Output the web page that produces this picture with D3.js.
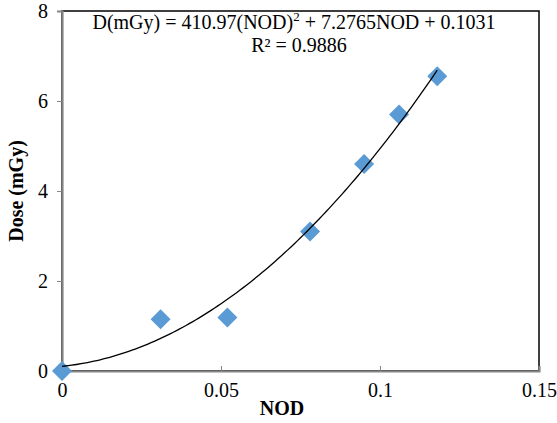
<!DOCTYPE html>
<html>
<head>
  <style>
    body { margin: 0; background: #fff; }
    svg text { font-family: "Liberation Serif", "Times New Roman", serif; fill: #000; }
  </style>
</head>
<body>
  <script src="https://d3js.org/d3.v7.min.js"></script>
  <script>
    const nod = [0, 0.031, 0.052, 0.078, 0.095, 0.106, 0.118];
    const dose = [0, 1.15, 1.19, 3.1, 4.6, 5.7, 6.55];
    const fitCoef = [410.97, 7.2765, 0.1031]; // a*x^2 + b*x + c
    const xTicks = [0, 0.05, 0.1, 0.15];
    const yTicks = [0, 2, 4, 6, 8];

    const width = 557, height = 423;
    const m = { top: 11, right: 18, bottom: 52, left: 62 };
    const fs = 20;

    const svg = d3.select('body').append('svg')
      .attr('width', width)
      .attr('height', height);

    const x = d3.scaleLinear().domain([0, 0.15]).range([m.left, width - m.right]);
    const y = d3.scaleLinear().domain([0, 8]).range([height - m.bottom, m.top]);

    // plot area border
    svg.append('rect')
      .attr('x', x(0)).attr('y', y(8))
      .attr('width', x(0.15) - x(0)).attr('height', y(0) - y(8))
      .attr('fill', 'none').attr('stroke', '#000').attr('stroke-width', 1.5);

    // axes
    const yAxis = svg.append('g')
      .attr('transform', `translate(${x(0)},0)`)
      .call(d3.axisLeft(y).tickValues(yTicks).tickSize(5).tickPadding(9).tickFormat(d3.format('d')));
    const xAxis = svg.append('g')
      .attr('transform', `translate(0,${y(0)})`)
      .call(d3.axisBottom(x).tickValues(xTicks).tickSize(-5).tickPadding(17).tickFormat(d => d === 0 ? '0' : String(d)));

    [yAxis, xAxis].forEach(g => {
      g.select('.domain').attr('stroke', '#868686').attr('stroke-width', 2.2);
      g.selectAll('.tick line').attr('stroke', '#868686');
      g.selectAll('.tick text').attr('font-size', fs);
    });
    xAxis.selectAll('.tick text').attr('dy', '0.45em');

    const line = d3.line().x(d => x(d[0])).y(d => y(d[1]));
    const fit = d3.range(0, 0.1181, 0.001).map(v => [v, fitCoef[0] * v * v + fitCoef[1] * v + fitCoef[2]]);

    // markers
    const diamond = d3.symbol(d3.symbolSquare, 200);
    svg.selectAll('.pt')
      .data(nod.map((v, i) => [v, dose[i]]))
      .enter()
      .append('path')
      .attr('class', 'pt')
      .attr('d', diamond)
      .attr('fill', '#5B9BD5')
      .attr('transform', d => `translate(${x(d[0])},${y(d[1])}) rotate(45)`);

    // trendline on top of markers
    svg.append('path')
      .datum(fit)
      .attr('fill', 'none')
      .attr('stroke', '#000')
      .attr('stroke-width', 1.3)
      .attr('d', line);

    // equation
    const eq = svg.append('text')
      .attr('x', 294).attr('y', 29)
      .attr('text-anchor', 'middle')
      .attr('font-size', fs);
    eq.append('tspan').text('D(mGy) = 410.97(NOD)');
    eq.append('tspan').attr('font-size', 13).attr('dy', -8).text('2');
    eq.append('tspan').attr('dy', 8).text(' + 7.2765NOD + 0.1031');

    svg.append('text')
      .attr('x', 299).attr('y', 52)
      .attr('text-anchor', 'middle')
      .attr('font-size', fs)
      .text('R² = 0.9886');

    // axis titles
    svg.append('text')
      .attr('x', 282).attr('y', 415)
      .attr('text-anchor', 'middle')
      .attr('font-size', fs).attr('font-weight', 'bold')
      .text('NOD');

    svg.append('text')
      .attr('transform', 'translate(23,191) rotate(-90)')
      .attr('text-anchor', 'middle')
      .attr('font-size', fs).attr('font-weight', 'bold')
      .text('Dose (mGy)');
  </script>
</body>
</html>
